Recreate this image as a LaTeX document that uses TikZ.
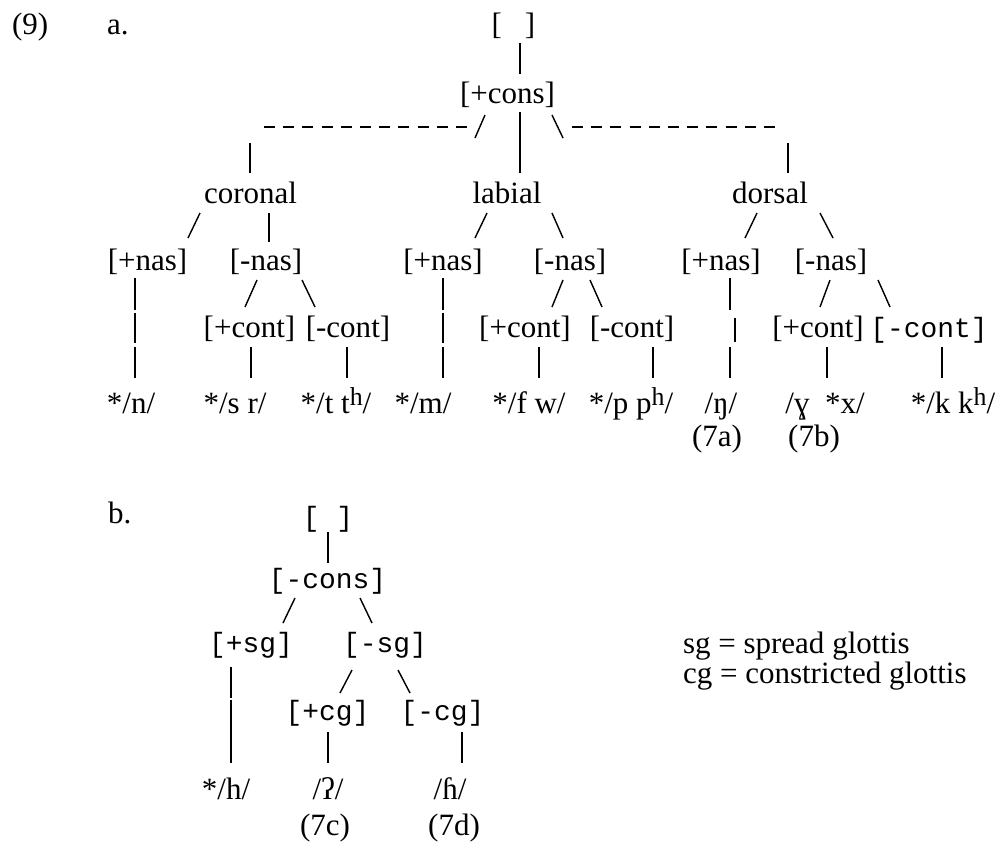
\documentclass[tikz,border=0pt]{standalone}
\usepackage{fontspec}
\setmainfont{Liberation Serif}
\setmonofont{Liberation Mono}
\newcommand{\asp}[1]{\raisebox{3pt}{\fontsize{10}{12}\selectfont #1}}

\begin{document}
\begin{tikzpicture}[
  x=0.387pt, y=-0.387pt,
  font=\fontsize{12}{14}\selectfont,
  feat/.style={inner sep=0pt, outer sep=0pt, anchor=base},
  mono/.style={feat, font=\fontsize{10.8}{13}\selectfont\ttfamily},
  branch/.style={line width=0.55pt, black},
  dashbranch/.style={branch, dash pattern=on 4.26pt off 3.17pt},
]
\useasboundingbox (0,0) rectangle (999,843);

% Example numbers
\node[feat, anchor=base west] (ex9) at (12,34) {(9)};
\node[feat, anchor=base west] (exa) at (107,34) {a.};
\node[feat, anchor=base west] (exb) at (108,523) {b.};

% (a) root and place nodes
\node[feat] (top) at (513.5,34) {[\hspace{8.9pt}]};
\node[feat] (cons) at (507.5,103) {[+cons]};
\node[feat] (cor) at (250.5,203) {coronal};
\node[feat] (lab) at (507,203) {labial};
\node[feat] (dor) at (770,203) {dorsal};

% (a) nasal nodes
\node[feat] (cpn) at (147.5,270) {[+nas]};
\node[feat] (cmn) at (266,270) {[-nas]};
\node[feat] (lpn) at (443,270) {[+nas]};
\node[feat] (lmn) at (570,270) {[-nas]};
\node[feat] (dpn) at (721,270) {[+nas]};
\node[feat] (dmn) at (831,270) {[-nas]};

% (a) continuant nodes
\node[feat] (cpc) at (249.5,337) {[+cont]};
\node[feat] (cmc) at (348,337) {[-cont]};
\node[feat] (lpc) at (525,337) {[+cont]};
\node[feat] (lmc) at (632,337) {[-cont]};
\node[feat] (dpc) at (818,337) {[+cont]};
\node[mono] (dmc) at (929,337) {[-cont]};

% (a) segments
\node[feat] (ln) at (131,413) {*/n/};
\node[feat] (lsr) at (235,413) {*/s r/};
\node[feat] (ltt) at (336,413) {*/t t\asp{h}/};
\node[feat] (lm) at (423,413) {*/m/};
\node[feat] (lfw) at (529,413) {*/f w/};
\node[feat] (lpp) at (631,413) {*/p p\asp{h}/};
\node[feat] (leng) at (721,413) {/ŋ/};
\node[feat] (lgx) at (825,413) {/ɣ~~*x/};
\node[feat] (lkk) at (953,413) {*/k k\asp{h}/};
\node[feat] (n7a) at (717,446) {(7a)};
\node[feat] (n7b) at (814,446) {(7b)};

% (b) laryngeal nodes
\node[mono] (btop) at (328,526) {[ ]};
\node[mono] (bcons) at (327.5,588) {[-cons]};
\node[mono] (psg) at (251,652) {[+sg]};
\node[mono] (msg) at (385,652) {[-sg]};
\node[mono] (pcg) at (327.5,720) {[+cg]};
\node[mono] (mcg) at (442.5,720) {[-cg]};
\node[feat] (lh) at (226,799) {*/h/};
\node[feat] (lq) at (328,799) {/ʔ/};
\node[feat] (lhh) at (450,799) {/ɦ/};
\node[feat] (n7c) at (325,835) {(7c)};
\node[feat] (n7d) at (454,835) {(7d)};

% Key
\node[feat, anchor=base west] (keysg) at (683,653) {sg = spread glottis};
\node[feat, anchor=base west] (keycg) at (683,683) {cg = constricted glottis};

% (a) branches: root to places
\draw[branch] ([shift={(6.5,9)}]top.base) -- ([shift={(12.5,-29)}]cons.base);
\draw[branch] ([shift={(-22.5,12)}]cons.base) -- ++(-10,23);
\draw[dashbranch] ([shift={(-40.5,24)}]cons.base) -- ([shift={(13.5,-76)}]cor.base);
\draw[branch] ([shift={(-0.5,-60)}]cor.base) -- ([shift={(-0.5,-30)}]cor.base);
\draw[branch] ([shift={(12.5,9)}]cons.base) -- ([shift={(13,-30)}]lab.base);
\draw[branch] ([shift={(44.5,12)}]cons.base) -- ++(11,23);
\draw[dashbranch] ([shift={(64.5,24)}]cons.base) -- ([shift={(5,-76)}]dor.base);
\draw[branch] ([shift={(18,-60)}]dor.base) -- ([shift={(18,-30)}]dor.base);

% (a) branches: places to nasal
\draw[branch] ([shift={(-50.5,10)}]cor.base) -- ([shift={(40.5,-32)}]cpn.base);
\draw[branch] ([shift={(18.5,10)}]cor.base) -- ([shift={(3,-28)}]cmn.base);
\draw[branch] ([shift={(-20,10)}]lab.base) -- ([shift={(32,-32)}]lpn.base);
\draw[branch] ([shift={(45,10)}]lab.base) -- ([shift={(-7,-32)}]lmn.base);
\draw[branch] ([shift={(-13,10)}]dor.base) -- ([shift={(24,-32)}]dpn.base);
\draw[branch] ([shift={(50,10)}]dor.base) -- ([shift={(2,-32)}]dmn.base);

% (a) branches: nasal to continuant / segments
\draw[branch] ([shift={(-12.5,8)}]cpn.base) -- ++(0,32) ++(0,3) -- ++(0,30) ++(0,4) -- ([shift={(4,-35)}]ln.base);
\draw[branch] ([shift={(-9,10)}]cmn.base) -- ([shift={(-4.5,-30)}]cpc.base);
\draw[branch] ([shift={(36,10)}]cmn.base) -- ([shift={(-33,-30)}]cmc.base);
\draw[branch] ([shift={(0,8)}]lpn.base) -- ++(0,32) ++(0,3) -- ++(0,30) ++(0,4) -- ([shift={(20,-35)}]lm.base);
\draw[branch] ([shift={(-7,10)}]lmn.base) -- ([shift={(27,-30)}]lpc.base);
\draw[branch] ([shift={(20,10)}]lmn.base) -- ([shift={(-30,-30)}]lmc.base);
\draw[branch] ([shift={(9,8)}]dpn.base) -- ++(0,32) ++(5,8) -- ++(0,24) ++(-5,5) -- ([shift={(9,-35)}]leng.base);
\draw[branch] ([shift={(-1,10)}]dmn.base) -- ([shift={(2,-30)}]dpc.base);
\draw[branch] ([shift={(47,10)}]dmn.base) -- ([shift={(-39,-30)}]dmc.base);

% (a) branches: continuant to segments
\draw[branch] ([shift={(1.5,10)}]cpc.base) -- ([shift={(16,-35)}]lsr.base);
\draw[branch] ([shift={(-1,10)}]cmc.base) -- ([shift={(11,-35)}]ltt.base);
\draw[branch] ([shift={(14,10)}]lpc.base) -- ([shift={(10,-35)}]lfw.base);
\draw[branch] ([shift={(21,10)}]lmc.base) -- ([shift={(22,-35)}]lpp.base);
\draw[branch] ([shift={(9,10)}]dpc.base) -- ([shift={(2,-35)}]lgx.base);
\draw[branch] ([shift={(13,10)}]dmc.base) -- ([shift={(-11,-35)}]lkk.base);

% (b) branches
\draw[branch] ([shift={(0,6)}]btop.base) -- ([shift={(0.5,-25)}]bcons.base);
\draw[branch] ([shift={(-32.5,10)}]bcons.base) -- ([shift={(32,-29)}]psg.base);
\draw[branch] ([shift={(32.5,10)}]bcons.base) -- ([shift={(-13,-29)}]msg.base);
\draw[branch] ([shift={(-20,15)}]psg.base) -- ++(0,31) ++(0,2) -- ([shift={(5,-36)}]lh.base);
\draw[branch] ([shift={(-33,18)}]msg.base) -- ([shift={(12.5,-27)}]pcg.base);
\draw[branch] ([shift={(13,18)}]msg.base) -- ([shift={(-32.5,-27)}]mcg.base);
\draw[branch] ([shift={(0.5,12)}]pcg.base) -- ([shift={(0,-36)}]lq.base);
\draw[branch] ([shift={(19.5,12)}]mcg.base) -- ([shift={(12,-36)}]lhh.base);

\end{tikzpicture}
\end{document}
